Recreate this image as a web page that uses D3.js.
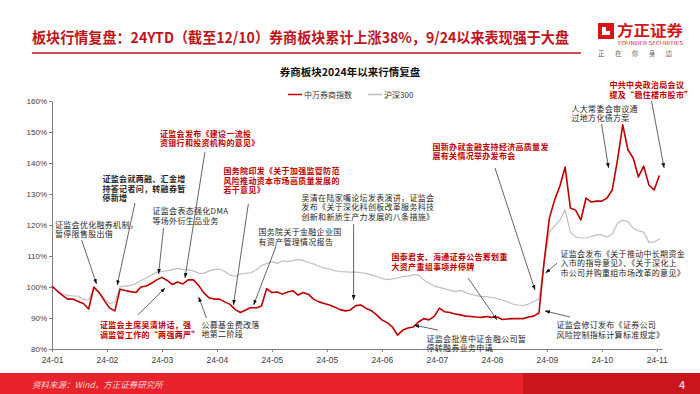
<!DOCTYPE html>
<html>
<head>
<meta charset="utf-8">
<script src="https://cdn.jsdelivr.net/npm/d3@7"></script>
<style>
  body { margin: 0; background: #fff; }
  svg text { font-family: "Noto Sans CJK SC", "Noto Sans", sans-serif; }
  .axis text { font-family: "Liberation Sans", Arial, sans-serif; }
</style>
</head>
<body>
<svg id="chart" width="700" height="394"></svg>
<script>
// trading-day index of each sample (every 2nd trading day since 2024-01-02)
const step = 2;

// 中万券商指数 (normalised, 2024-01-02 = 100%)
const brokerIndex = [
  100.3, 98.7, 97.3, 96.1, 96.1, 95.3, 94.7, 92.9, 100.0, 98.2,
  95.6, 93.2, 92.3, 99.3, 98.9, 98.5, 98.2, 100.0, 100.3, 101.2,
  102.3, 103.1, 102.1, 100.8, 101.6, 101.0, 102.3, 102.3, 100.5, 98.1,
  96.5, 96.1, 96.1, 95.2, 94.4, 92.7, 91.8, 92.6, 93.4, 93.2,
  93.9, 99.5, 98.2, 98.4, 97.7, 98.4, 98.8, 97.4, 98.2, 97.6,
  96.0, 95.2, 94.7, 94.2, 93.5, 92.7, 92.3, 92.6, 94.0, 94.2,
  93.1, 92.4, 91.0, 89.4, 88.5, 87.1, 84.5, 86.1, 86.8, 87.1,
  88.7, 89.8, 89.4, 90.5, 93.2, 92.0, 91.8, 91.3, 91.0, 90.6,
  90.5, 90.3, 90.2, 90.5, 90.2, 90.3, 89.5, 89.7, 89.8, 89.8,
  89.8, 90.3, 90.6, 91.6, 108.4, 122.3, 128.1, 132.6, 138.7, 125.5,
  124.8, 121.6, 128.7, 127.4, 127.7, 127.7, 128.7, 131.3, 141.0, 152.3,
  144.2, 141.6, 135.5, 139.0, 132.9, 131.3, 136.0
];

// 沪深300 (normalised)
const hs300 = [
  100.2, 98.9, 97.7, 97.3, 97.1, 97.1, 96.0, 95.8, 99.4, 98.4,
  96.3, 94.7, 95.0, 100.1, 100.3, 100.5, 101.1, 102.1, 102.9, 103.9,
  104.8, 105.0, 105.2, 105.6, 106.0, 105.6, 105.6, 105.2, 104.5, 104.4,
  105.2, 105.6, 105.8, 105.0, 103.9, 103.4, 104.2, 104.4, 104.6, 105.5,
  106.9, 107.6, 108.2, 107.6, 108.4, 108.2, 108.5, 108.9, 108.5, 107.9,
  107.4, 106.6, 106.1, 105.8, 105.3, 105.0, 104.9, 104.8, 104.8, 104.6,
  104.4, 103.9, 103.4, 102.8, 102.4, 102.6, 102.9, 103.4, 103.5, 103.9,
  103.9, 102.3, 101.2, 100.3, 99.9, 99.4, 99.0, 98.5, 98.9, 98.2,
  97.6, 97.3, 96.9, 96.9, 96.6, 96.3, 95.8, 95.2, 94.5, 94.2,
  94.0, 94.5, 95.3, 96.1, 108.1, 117.7, 119.7, 121.6, 124.8, 117.7,
  116.1, 115.8, 115.8, 116.3, 116.8, 116.8, 116.1, 117.1, 120.6, 121.6,
  121.0, 119.0, 118.1, 117.7, 114.4, 114.5, 115.5
];

// x tick labels, one every 21 trading days
const tickLabels = ["24-01","24-02","24-03","24-04","24-05","24-05","24-06","24-07","24-08","24-09","24-10","24-11"];
const tickEvery = 21;
const yTicks = [80, 90, 100, 110, 120, 130, 140, 150, 160];

const seriesNames = ["中万券商指数", "沪深300"];

// annotations: text lines, text anchor (px), arrow from/to in [day, value]
const notes = [
  { lines: ["证监会发布《建设一流投", "资银行和投资机构的意见》"], red: true, x: 160, y: 133.5, from: [58.4, 143.5], to: [50.8, 102.9] },
  { lines: ["证监会就两融、汇金增", "持答记者问，转融券暂", "停新增"], bold: true, x: 102.5, y: 179, from: [31.7, 127.1], to: [24.9, 100.6] },
  { lines: ["证监会优化融券机制，", "暂停限售股出借"], x: 55, y: 224.5, from: [11.3, 115.2], to: [17.0, 101.0] },
  { lines: ["证监会表态强化DMA", "等场外衍生品业务"], x: 152.5, y: 211, from: [42.6, 119.0], to: [40.7, 104.2] },
  { lines: ["国务院印发《关于加强监管防范", "风险推动资本市场高质量发展的", "若干意见》"], red: true, x: 223.5, y: 171, from: [75.0, 126.8], to: [69.3, 94.2] },
  { lines: ["吴清在陆家嘴论坛发表演讲，证监会", "发布《关于深化科创板改革服务科技", "创新和新质生产力发展的八条措施》"], x: 301.5, y: 197.5, from: [115.2, 120.3], to: [115.2, 95.8] },
  { lines: ["国务院关于金融企业国", "有资产管理情况报告"], x: 258.5, y: 232, from: [85.6, 113.2], to: [77.0, 94.2] },
  { lines: ["证监会主席吴清讲话，强", "调监管工作的“两强两严”"], red: true, x: 100, y: 325, from: [32.8, 91.0], to: [43.2, 99.7] },
  { lines: ["公募基金费改落", "地第二阶段"], x: 201.5, y: 324.5, from: [59.0, 90.0], to: [56.0, 96.8] },
  { lines: ["国新办就金融支持经济高质量发", "展有关情况举办发布会"], red: true, x: 432.5, y: 146.5, from: [169.2, 138.4], to: [184.5, 99.0] },
  { lines: ["人大常委会审议通", "过地方化债方案"], x: 571.5, y: 108.5, from: [209.9, 152.6], to: [212.6, 138.4] },
  { lines: ["中共中央政治局会议", "提及“稳住楼市股市”"], red: true, x: 609.5, y: 85, from: [229.0, 160.0], to: [233.8, 138.4] },
  { lines: ["国泰君安、海通证券公告筹划重", "大资产重组事项并停牌"], red: true, x: 391.5, y: 257, from: [158.9, 102.9], to: [170.0, 89.4] },
  { lines: ["证监会批准中证金融公司暂", "停转融券业务申请"], x: 426.5, y: 338.5, from: [147.4, 86.1], to: [138.3, 87.7] },
  { lines: ["证监会发布《关于推动中长期资金", "入市的指导意见》、《关于深化上", "市公司并购重组市场改革的意见》"], x: 560.5, y: 253.5, from: [192.9, 107.7], to: [188.5, 104.5] },
  { lines: ["证监会修订发布《证券公司", "风险控制指标计算标准规定》"], x: 556.5, y: 325, from: [197.9, 90.3], to: [188.3, 92.3] }
];

const width = 700;
const height = 394;
const marginTop = 101;
const marginRight = 38;
const marginBottom = 45;
const marginLeft = 52;

const red = "#c00000";
const grey = "#bfbfbf";

const svg = d3.select("#chart");

const lastDay = 233;
const x = d3.scaleLinear().domain([0, lastDay]).range([marginLeft, width - marginRight]);
const y = d3.scaleLinear().domain([80, 160]).range([height - marginBottom, marginTop]);

// header
svg.append("text")
  .attr("x", 32).attr("y", 43)
  .attr("fill", "#c0141c")
  .attr("font-size", 14.5)
  .attr("font-weight", 700)
  .attr("textLength", 537)
  .attr("lengthAdjust", "spacingAndGlyphs")
  .text("板块行情复盘：24YTD（截至12/10）券商板块累计上涨38%，9/24以来表现强于大盘");

svg.append("line")
  .attr("x1", 32).attr("x2", 581).attr("y1", 53).attr("y2", 53)
  .attr("stroke", "#c0141c").attr("stroke-width", 1.5);

// logo
const logo = svg.append("g");
logo.append("path")
  .attr("d", "M598,23 H614 V39 H598 Z M602,27 V35 H610 V31 H606 V27 Z")
  .attr("fill", "#d7141a").attr("fill-rule", "evenodd");
logo.append("text").attr("x", 617).attr("y", 36)
  .attr("fill", "#d7141a").attr("font-size", 15).attr("font-weight", 700)
  .attr("textLength", 66).attr("lengthAdjust", "spacingAndGlyphs")
  .text("方正证券");
logo.append("text").attr("x", 618).attr("y", 45)
  .attr("fill", "#d7141a").attr("font-size", 4.6)
  .attr("textLength", 65).attr("lengthAdjust", "spacingAndGlyphs")
  .text("FOUNDER SECURITIES");
logo.append("text").attr("x", 598).attr("y", 56)
  .attr("fill", "#666").attr("font-size", 6.5)
  .attr("textLength", 74).attr("lengthAdjust", "spacing")
  .text("正在你身边");

// chart title
svg.append("text")
  .attr("x", 350).attr("y", 76)
  .attr("text-anchor", "middle")
  .attr("font-size", 10.5).attr("font-weight", 700).attr("fill", "#111")
  .text("券商板块2024年以来行情复盘");

// legend
const legend = svg.append("g");
[[288, red], [368, grey]].forEach(([lx, c], i) => {
  legend.append("line")
    .attr("x1", lx).attr("x2", lx + 14).attr("y1", 94.5).attr("y2", 94.5)
    .attr("stroke", c).attr("stroke-width", 1.5);
  legend.append("text")
    .attr("x", lx + 16).attr("y", 97.5)
    .attr("font-size", 8).attr("fill", "#333")
    .text(seriesNames[i]);
});

// axes
svg.append("g")
  .attr("class", "axis")
  .attr("transform", `translate(0,${height - marginBottom})`)
  .call(d3.axisBottom(x)
    .tickValues(tickLabels.map((d, i) => i * tickEvery))
    .tickFormat((d, i) => tickLabels[i])
    .tickSize(3)
    .tickSizeOuter(0))
  .call(g => g.select(".domain").attr("stroke", "#7f7f7f"))
  .call(g => g.selectAll(".tick line").attr("stroke", "#7f7f7f"))
  .call(g => g.selectAll(".tick text").attr("font-size", 8.5).attr("fill", "#404040").attr("dy", "0.9em"));

svg.append("g")
  .attr("class", "axis")
  .attr("transform", `translate(${marginLeft},0)`)
  .call(d3.axisLeft(y)
    .tickValues(yTicks)
    .tickFormat(d => d + "%")
    .tickSize(3)
    .tickSizeOuter(0))
  .call(g => g.select(".domain").attr("stroke", "#7f7f7f"))
  .call(g => g.selectAll(".tick line").attr("stroke", "#7f7f7f"))
  .call(g => g.selectAll(".tick text").attr("font-size", 8).attr("fill", "#404040").attr("x", -5));

// lines
const line = d3.line()
  .x((d, i) => x(i * step))
  .y(d => y(d));

svg.append("path")
  .datum(hs300)
  .attr("fill", "none")
  .attr("stroke", grey)
  .attr("stroke-width", 1.2)
  .attr("stroke-linejoin", "round")
  .attr("d", line);

svg.append("path")
  .datum(brokerIndex)
  .attr("fill", "none")
  .attr("stroke", red)
  .attr("stroke-width", 1.6)
  .attr("stroke-linejoin", "round")
  .attr("d", line);

// arrows
svg.append("defs").append("marker")
  .attr("id", "arrow")
  .attr("viewBox", "0 0 8 6")
  .attr("refX", 8).attr("refY", 3)
  .attr("markerWidth", 5).attr("markerHeight", 4)
  .attr("markerUnits", "userSpaceOnUse")
  .attr("orient", "auto")
  .append("path").attr("d", "M0,0 L8,3 L0,6 Z").attr("fill", "#111");

const noteG = svg.append("g");
notes.forEach(n => {
  noteG.append("line")
    .attr("x1", x(n.from[0])).attr("y1", y(n.from[1]))
    .attr("x2", x(n.to[0])).attr("y2", y(n.to[1]))
    .attr("stroke", "#222").attr("stroke-width", 0.7)
    .attr("marker-end", "url(#arrow)");
  const t = noteG.append("text")
    .attr("font-size", 8)
    .attr("letter-spacing", 0.3)
    .attr("fill", n.red ? "#c00000" : "#262626")
    .attr("font-weight", n.red || n.bold ? 700 : 400);
  n.lines.forEach((s, k) => {
    t.append("tspan").attr("x", n.x).attr("y", n.y + 3 + k * 9.5).text(s);
  });
});

// footer bar
svg.append("rect").attr("x", 0).attr("y", 373).attr("width", 523).attr("height", 21).attr("fill", "#e8232b");
svg.append("rect").attr("x", 523).attr("y", 373).attr("width", 177).attr("height", 21).attr("fill", "#c9151e");
svg.append("text")
  .attr("x", 32).attr("y", 388)
  .attr("fill", "#fbd9da").attr("font-size", 8.5).attr("font-style", "italic")
  .text("资料来源：Wind，方正证券研究所");
svg.append("text")
  .attr("x", 682).attr("y", 389)
  .attr("text-anchor", "middle")
  .attr("fill", "#fff").attr("font-size", 11)
  .attr("font-family", "Liberation Sans, Arial, sans-serif")
  .text("4");
</script>
</body>
</html>
